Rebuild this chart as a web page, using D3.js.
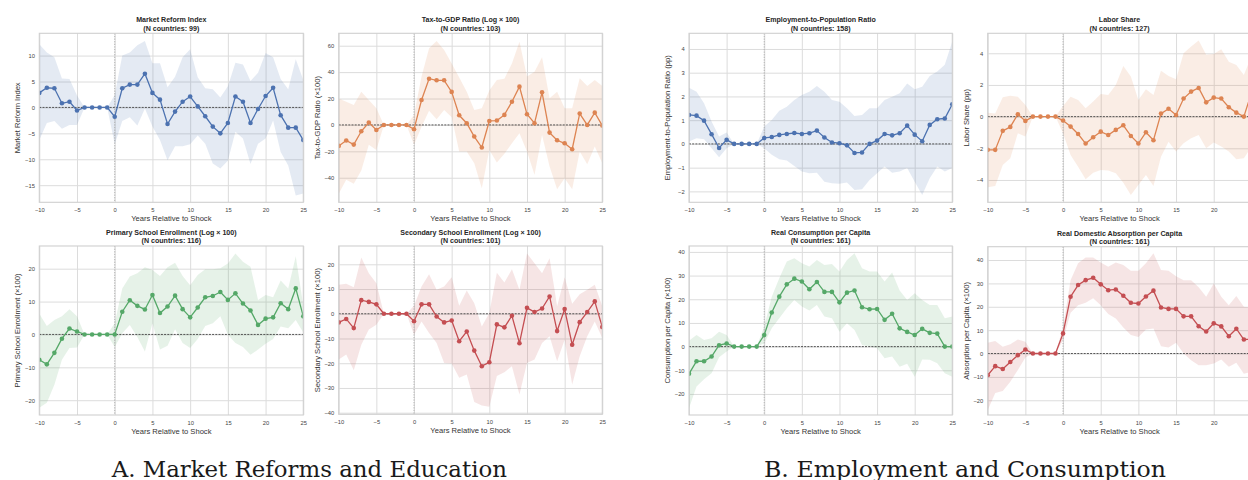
<!DOCTYPE html>
<html>
<head>
<meta charset="utf-8">
<script src="https://cdn.jsdelivr.net/npm/d3@7"></script>
<style>
  body { margin: 0; background: #fff; }
  svg { display: block; }
  text { font-family: "Liberation Sans", Arial, sans-serif; }
</style>
</head>
<body>
<svg id="chart" width="1248" height="480"></svg>
<script>
// event time, years relative to shock
var years = [-10, -9, -8, -7, -6, -5, -4, -3, -2, -1, 0, 1, 2, 3, 4, 5, 6, 7, 8, 9,
  10, 11, 12, 13, 14, 15, 16, 17, 18, 19, 20, 21, 22, 23, 24, 25];
var xTicks = [-10, -5, 0, 5, 10, 15, 20, 25];

// Market reform index
var mriMean = [2.8, 3.8, 3.7, 0.8, 1.1, -0.6, 0, 0, 0, 0, -1.8, 3.7, 4.4, 4.4, 6.5, 2.8, 1.5, -3.2, -0.8, 1.1,
  2.1, 0.2, -1.7, -3.7, -5.0, -3.0, 2.1, 1.1, -3.0, -0.3, 2.2, 3.8, -1.5, -3.9, -3.9, -6.3];
var mriHi = [12.2, 10.6, 9.7, 5.6, 5.5, 2.3, 0, 0, 0, 0, 2.4, 10, 10.6, 12, 12.8, 8.5, 8.5, 3.9, 5.9, 9.7,
  11.2, 5.8, 3.7, 3.5, 1.9, 4.1, 8.6, 8.3, 5.1, 6.7, 10.5, 9.7, 5.5, 3.5, 9.3, 5.3];
var mriLo = [-6.3, -3.0, -2.6, -4.1, -3.4, -3.4, 0, 0, 0, 0, -7.1, -2.6, -1.9, -3.5, -0.2, -3.7, -6.3, -10.2, -7.5, -7.5,
  -7.1, -5.4, -7.0, -10.8, -11.8, -10.3, -4.7, -6.0, -10.9, -7.0, -6.0, -2.5, -8.6, -11.2, -17.0, -16.6];

// Tax-to-GDP
var taxMean = [-15.9, -11.8, -14.9, -4.8, 1.8, -3.8, 0, 0, 0, 0, -3.3, 18.9, 35.0, 33.8, 33.8, 25.0, 7.3, 1.3, -8.8, -17.1,
  3.0, 3.3, 7.6, 17.6, 29.0, 8.1, 1.3, 24.7, -5.8, -11.6, -13.9, -18.4, 8.6, 0, 9.3, -0.5];
var taxHi = [20, 17.6, 15.1, 25.2, 18.9, 12.6, 0, 0, 0, 0, 7.6, 36.6, 58, 63.5, 56.7, 46.6, 36, 25.2, 11.3, 12.6,
  26, 34, 35, 46.6, 63, 36.6, 40.3, 51.2, 20.2, 25.2, 12.6, 12.6, 35.3, 29.5, 34, 29.5];
var taxLo = [-52.2, -41.6, -44.6, -34.5, -15.1, -18.9, 0, 0, 0, 0, -15.1, -1.3, 10.8, 4.3, 11.3, 5.8, -20.2, -20.2, -29, -47.9,
  -18.9, -28.5, -21.9, -13.9, -6.3, -20.2, -37.8, -7.6, -31.5, -48.7, -40.3, -48.7, -20.2, -29.7, -16.4, -29];

// Primary school enrollment
var primMean = [-7.7, -9.1, -5.6, -1.3, 1.8, 0.9, 0, 0, 0, 0, 0, 6.9, 10.4, 8.7, 7.6, 12.0, 6.5, 8.5, 11.8, 7.7,
  5.2, 8.2, 11.3, 11.7, 12.9, 10.5, 12.5, 9.4, 7.3, 2.9, 4.8, 5.2, 9.5, 7.7, 14.0, 5.5];
var primHi = [6.3, 2.6, 4.4, 5.5, 7.7, 5.5, 0, 0, 0, 0, 3.4, 14, 17.6, 18.6, 20.4, 19.6, 17.8, 20.4, 21.8, 17.8,
  15, 18.1, 19.8, 19.8, 20.1, 21.6, 24.6, 22.1, 20.6, 10.5, 12, 11.3, 16.4, 14, 23.8, 8.7];
var primLo = [-22.3, -20.8, -15.3, -7.7, -4.1, -4.0, 0, 0, 0, 0, -3.8, 0.4, 2.9, -0.8, -5.2, 3.4, -4.6, -3.4, 1.6, -2.6,
  -4.1, -1.4, 2.6, 3.4, 5.5, -0.1, -2.6, -3.8, -6.2, -4.6, -2.8, -1.4, 2.4, 1.9, 4.4, 0.6];

// Secondary school enrollment
var secMean = [-3.5, -2.1, -5.8, 5.5, 4.8, 3.8, 0, 0, 0, 0, -3.0, 3.8, 3.8, -1.1, -3.5, -2.7, -11.1, -7.2, -14.9, -21.2,
  -19.6, -4.3, -5.5, -0.8, -11.9, 2.4, 0.7, 2.1, 7.0, -7.0, 1.9, -12.5, -3.4, 0.7, 5.0, -5.4];
var secHi = [11.7, 12.1, 10.7, 22.8, 16.4, 12.3, 0, 0, 0, 0, 3.2, 11, 16, 9.7, 11, 14.8, 3.2, 9.4, 4.3, -5.1,
  0.3, 16.6, 12.6, 18, 9.7, 24.4, 20.4, 16.4, 22.4, 3, 14.8, 4, 7.9, 9.7, 11.7, 3];
var secLo = [-18.5, -16.5, -22.8, -12.5, -6.4, -4.4, 0, 0, 0, 0, -8.5, -3.1, -7.8, -11.8, -19.9, -20.1, -25.9, -24.6, -35.7, -37.1,
  -37.6, -25.2, -23.6, -21.2, -32.6, -19.9, -18.5, -11.8, -9.1, -19.2, -10.5, -28.6, -17.2, -9.1, -3.1, -9.8];

// Employment-to-population ratio
var empMean = [1.22, 1.19, 0.98, 0.41, -0.17, 0.17, 0, 0, 0, 0, 0.25, 0.29, 0.38, 0.42, 0.46, 0.42, 0.45, 0.56, 0.27, 0.06,
  0.03, -0.06, -0.38, -0.36, 0.0, 0.14, 0.42, 0.36, 0.45, 0.77, 0.39, 0.11, 0.80, 1.04, 1.07, 1.67];
var empHi = [2.37, 2.2, 1.71, 0.94, 0.31, 0.48, 0, 0, 0, 0, 0.73, 1.01, 1.4, 1.57, 1.85, 2.06, 2.2, 2.44, 2.2, 1.85,
  1.78, 1.5, 1.18, 1.22, 1.5, 1.5, 1.85, 1.99, 2.13, 2.55, 2.3, 2.41, 2.86, 3.05, 3.33, 4.31];
var empLo = [0.1, 0.24, 0.2, -0.18, -0.56, -0.18, 0, 0, 0, 0, -0.18, -0.46, -0.65, -0.7, -0.93, -1.16, -1.24, -1.21, -1.59, -1.66,
  -1.68, -1.63, -1.94, -1.91, -1.52, -1.24, -0.95, -1.21, -1.16, -1.02, -1.59, -2.15, -1.45, -0.95, -1.16, -1.02];

// Labor share
var labMean = [-2.1, -2.1, -0.9, -0.65, 0.15, -0.27, 0, 0, 0, 0, -0.25, -0.63, -1.1, -1.7, -1.3, -0.95, -1.16, -0.84, -0.55, -1.22,
  -1.7, -0.99, -1.49, 0.19, 0.5, 0.1, 1.14, 1.58, 1.81, 0.9, 1.2, 1.14, 0.59, 0.25, 0.0, 1.5];
var labHi = [0.25, 0.2, 1.22, 1.31, 1.26, 0.74, 0, 0, 0, 0, 0.67, 1.26, 1.05, 0.53, 0.95, 1.43, 1.37, 2.0, 3.2, 2.53,
  1.05, 1.73, 1.37, 2.9, 2.57, 2.36, 4.0, 4.42, 4.8, 3.9, 3.96, 4.25, 3.47, 3.26, 2.63, 3.8];
var labLo = [-4.46, -4.38, -3.05, -2.63, -1.05, -1.26, 0, 0, 0, 0, -1.05, -2.42, -3.16, -3.96, -3.54, -3.37, -3.41, -3.58, -4.17, -4.95,
  -4.32, -3.68, -4.38, -2.53, -1.58, -2.21, -1.68, -1.37, -1.16, -2.0, -1.64, -1.89, -2.21, -2.69, -2.63, -1.9];

// Real consumption per capita
var conMean = [-11.5, -6.2, -6.2, -4.2, 0.6, 1.3, 0, 0, 0, 0, 4.9, 14.4, 21.1, 26.3, 28.7, 27.5, 24.2, 27.3, 23.1, 23.1,
  18.7, 22.8, 23.7, 16.6, 15.8, 15.9, 11.3, 13.9, 7.7, 6.2, 4.9, 7.5, 5.8, 5.5, 0, 0];
var conHi = [2.5, 4.9, 2.8, 3.5, 6.3, 4.9, 0, 0, 0, 0, 8.5, 21.1, 28.9, 35.9, 37.3, 35.2, 33.8, 36.6, 34.5, 34.9,
  31.7, 36.6, 39.4, 33.1, 31.7, 31.7, 27.5, 31.3, 23.7, 19.7, 22.5, 19.7, 17.6, 17.6, 12, 12.7];
var conLo = [-26, -16.9, -13.8, -11.3, -4.5, -2.1, 0, 0, 0, 0, 1.3, 7.7, 12, 16.2, 19.7, 16.9, 15.2, 17.6, 12.7, 12,
  6.3, 9.9, 7, 0.7, 0, -0.7, -4.9, -4.2, -8.5, -7.3, -12.7, -5.4, -5.6, -7, -11.3, -12.7];

// Real domestic absorption per capita
var absMean = [-9.3, -5.4, -6.6, -3.6, -0.7, 1.7, 0, 0, 0, 0, 8.6, 24.3, 29.3, 31.4, 32.4, 29.6, 27.1, 27.4, 24.7, 21.7,
  21.4, 24.4, 26.9, 19.7, 19.1, 19.1, 15.9, 15.9, 11.7, 9.4, 12.9, 11.6, 7.4, 10.6, 6.0, 6.1];
var absHi = [4.6, 5.4, 2.9, 4.0, 6.0, 5.0, 0, 0, 0, 0, 11.4, 31.4, 38.6, 41.1, 41.1, 38.9, 37.1, 38.9, 37.9, 35.4,
  35.4, 38.6, 42.9, 35.7, 35.4, 33.1, 31.4, 31.4, 28.3, 24.3, 30, 24.3, 20.7, 24.6, 20, 19.7];
var absLo = [-24.3, -16.9, -16, -12.1, -7.1, -1.7, 0, 0, 0, 0, 5.7, 17.4, 20.7, 21.7, 23.6, 20.7, 16.9, 15, 11.1, 7.9,
  7.1, 10.3, 10.7, 3.1, 2.6, 4.6, 0, -2.9, -5, -5, -4.3, -2.6, -5.7, -4, -8.6, -7.9];

var blue = '#4C72B0', orange = '#DD8452', green = '#55A868', red = '#C44E52';

var panels = [
  {title: 'Market Reform Index', n: 99, ylabel: 'Market Reform Index', color: blue,
   mean: mriMean, lo: mriLo, hi: mriHi, yDomain: [-18.3, 14.3], yTicks: [-15, -10, -5, 0, 5, 10],
   box: [39.3, 33.3, 303.3, 202.3]},
  {title: 'Tax-to-GDP Ratio (Log × 100)', n: 103, ylabel: 'Tax-to-GDP Ratio (×100)', color: orange,
   mean: taxMean, lo: taxLo, hi: taxHi, yDomain: [-58.6, 69.4], yTicks: [-40, -20, 0, 20, 40, 60],
   box: [338.7, 33.3, 602.3, 202.3]},
  {title: 'Primary School Enrollment (Log × 100)', n: 116, ylabel: 'Primary School Enrollment (×100)', color: green,
   mean: primMean, lo: primLo, hi: primHi, yDomain: [-24.5, 26.9], yTicks: [-20, -10, 0, 10, 20],
   box: [39.3, 246, 303.3, 415]},
  {title: 'Secondary School Enrollment (Log × 100)', n: 101, ylabel: 'Secondary School Enrollment (×100)', color: red,
   mean: secMean, lo: secLo, hi: secHi, yDomain: [-40.65, 27.4], yTicks: [-40, -30, -20, -10, 0, 10, 20],
   box: [338.7, 246, 602.3, 414.3]},
  {title: 'Employment-to-Population Ratio', n: 158, ylabel: 'Employment-to-Population Ratio (pp)', color: blue,
   mean: empMean, lo: empLo, hi: empHi, yDomain: [-2.46, 4.66], yTicks: [-2, -1, 0, 1, 2, 3, 4],
   box: [689, 33.3, 952.3, 202.3]},
  {title: 'Labor Share', n: 127, ylabel: 'Labor Share (pp)', color: orange,
   mean: labMean, lo: labLo, hi: labHi, yDomain: [-5.41, 5.26], yTicks: [-4, -2, 0, 2, 4],
   box: [987.7, 33.3, 1251.4, 202.3]},
  {title: 'Real Consumption per Capita', n: 161, ylabel: 'Consumption per Capita (×100)', color: green,
   mean: conMean, lo: conLo, hi: conHi, yDomain: [-28.9, 42.5], yTicks: [-20, -10, 0, 10, 20, 30, 40],
   box: [689, 246, 952.3, 415]},
  {title: 'Real Domestic Absorption per Capita', n: 161, ylabel: 'Absorption per Capita (×100)', color: red,
   mean: absMean, lo: absLo, hi: absHi, yDomain: [-26.3, 45.7], yTicks: [-20, -10, 0, 10, 20, 30, 40],
   box: [987.7, 246.7, 1251.4, 415]}
];

var captions = [
  {text: 'A. Market Reforms and Education', x0: 111.7, x1: 507},
  {text: 'B. Employment and Consumption', x0: 764, x1: 1166}
];

var pageWidth = 1248;
var svg = d3.select('#chart');
var defs = svg.append('defs');

panels.forEach(function(p, i) {
  drawPanel(p, i);
});

function drawPanel(p, i) {
  var x0 = p.box[0], y0 = p.box[1], x1 = p.box[2], y1 = p.box[3];
  var w = x1 - x0, h = y1 - y0;
  var x = d3.scaleLinear().domain([-10, 25]).range([x0, x1]);
  var y = d3.scaleLinear().domain(p.yDomain).range([y1, y0]);
  var rows = years.map(function(yr, k) {
    return {year: yr, mean: p.mean[k], lo: p.lo[k], hi: p.hi[k]};
  });
  // the right-hand panels run past the page edge, like the cropped original
  var visibleXTicks = xTicks.filter(function(t) { return x(t) + 4 < pageWidth; });

  defs.append('clipPath').attr('id', 'clip' + i)
    .append('rect').attr('x', x0).attr('y', y0).attr('width', w).attr('height', h);

  var g = svg.append('g');

  // grid + ticks
  var xAxis = g.append('g')
    .attr('transform', 'translate(0,' + y1 + ')')
    .call(d3.axisBottom(x).tickValues(visibleXTicks).tickSize(-h).tickPadding(5.4).tickFormat(d3.format('d')));
  g.append('g')
    .attr('transform', 'translate(0,' + y1 + ')')
    .call(d3.axisBottom(x).tickValues(xTicks.filter(function(t) { return visibleXTicks.indexOf(t) < 0; }))
      .tickSize(-h).tickFormat(''))
    .call(function(ax) { ax.select('.domain').remove(); ax.selectAll('.tick line').attr('stroke', '#dcdcdc'); });
  var yAxis = g.append('g')
    .attr('transform', 'translate(' + x0 + ',0)')
    .call(d3.axisLeft(y).tickValues(p.yTicks).tickSize(-w).tickPadding(4.4).tickFormat(d3.format('d')));
  [xAxis, yAxis].forEach(function(ax) {
    ax.select('.domain').remove();
    ax.selectAll('.tick line').attr('stroke', '#dcdcdc').attr('stroke-width', 1);
    ax.selectAll('.tick text')
      .attr('fill', '#444')
      .style('font-size', '5.8px')
      .style('font-family', '"Liberation Sans", Arial, sans-serif');
  });

  var plot = g.append('g').attr('clip-path', 'url(#clip' + i + ')');

  // confidence band
  plot.append('path')
    .datum(rows)
    .attr('fill', p.color)
    .attr('fill-opacity', 0.15)
    .attr('d', d3.area()
      .x(function(d) { return x(d.year); })
      .y0(function(d) { return y(d.lo); })
      .y1(function(d) { return y(d.hi); }));

  // reference lines
  plot.append('line')
    .attr('x1', x0).attr('x2', x1).attr('y1', y(0)).attr('y2', y(0))
    .attr('stroke', '#444').attr('stroke-width', 0.9).attr('stroke-dasharray', '2,1.2');
  plot.append('line')
    .attr('x1', x(0)).attr('x2', x(0)).attr('y1', y0).attr('y2', y1)
    .attr('stroke', '#aaa').attr('stroke-width', 0.9).attr('stroke-dasharray', '1.3,1.3');

  // mean line and markers
  plot.append('path')
    .datum(rows)
    .attr('fill', 'none')
    .attr('stroke', p.color)
    .attr('stroke-width', 1.3)
    .attr('d', d3.line()
      .x(function(d) { return x(d.year); })
      .y(function(d) { return y(d.mean); }));
  plot.selectAll('circle')
    .data(rows)
    .enter().append('circle')
    .attr('cx', function(d) { return x(d.year); })
    .attr('cy', function(d) { return y(d.mean); })
    .attr('r', 2.3)
    .attr('fill', p.color);

  // frame
  g.append('rect')
    .attr('x', x0).attr('y', y0).attr('width', w).attr('height', h)
    .attr('fill', 'none').attr('stroke', '#cfcfcf').attr('stroke-width', 1.1);

  // titles and labels
  var cx = (x0 + x1) / 2;
  g.append('text')
    .attr('x', cx).attr('y', y0 - 11)
    .attr('text-anchor', 'middle')
    .style('font-size', '7.1px').style('font-weight', 'bold').attr('fill', '#262626')
    .text(p.title);
  g.append('text')
    .attr('x', cx).attr('y', y0 - 2.6)
    .attr('text-anchor', 'middle')
    .style('font-size', '7.1px').style('font-weight', 'bold').attr('fill', '#262626')
    .text('(N countries: ' + p.n + ')');
  g.append('text')
    .attr('x', cx).attr('y', y1 + 18.5)
    .attr('text-anchor', 'middle')
    .style('font-size', '7.6px').attr('fill', '#333')
    .text('Years Relative to Shock');
  g.append('text')
    .attr('transform', 'translate(' + (x0 - 19) + ',' + ((y0 + y1) / 2) + ') rotate(-90)')
    .attr('text-anchor', 'middle')
    .style('font-size', '7.6px').attr('fill', '#333')
    .text(p.ylabel);
}

// panel captions
captions.forEach(function(c) {
  svg.append('text')
    .attr('x', c.x0).attr('y', 476.5)
    .attr('textLength', c.x1 - c.x0)
    .attr('lengthAdjust', 'spacingAndGlyphs')
    .style('font-family', '"DejaVu Serif", "Liberation Serif", serif')
    .style('font-size', '23px')
    .attr('fill', '#1a1a1a')
    .text(c.text);
});
</script>
</body>
</html>
